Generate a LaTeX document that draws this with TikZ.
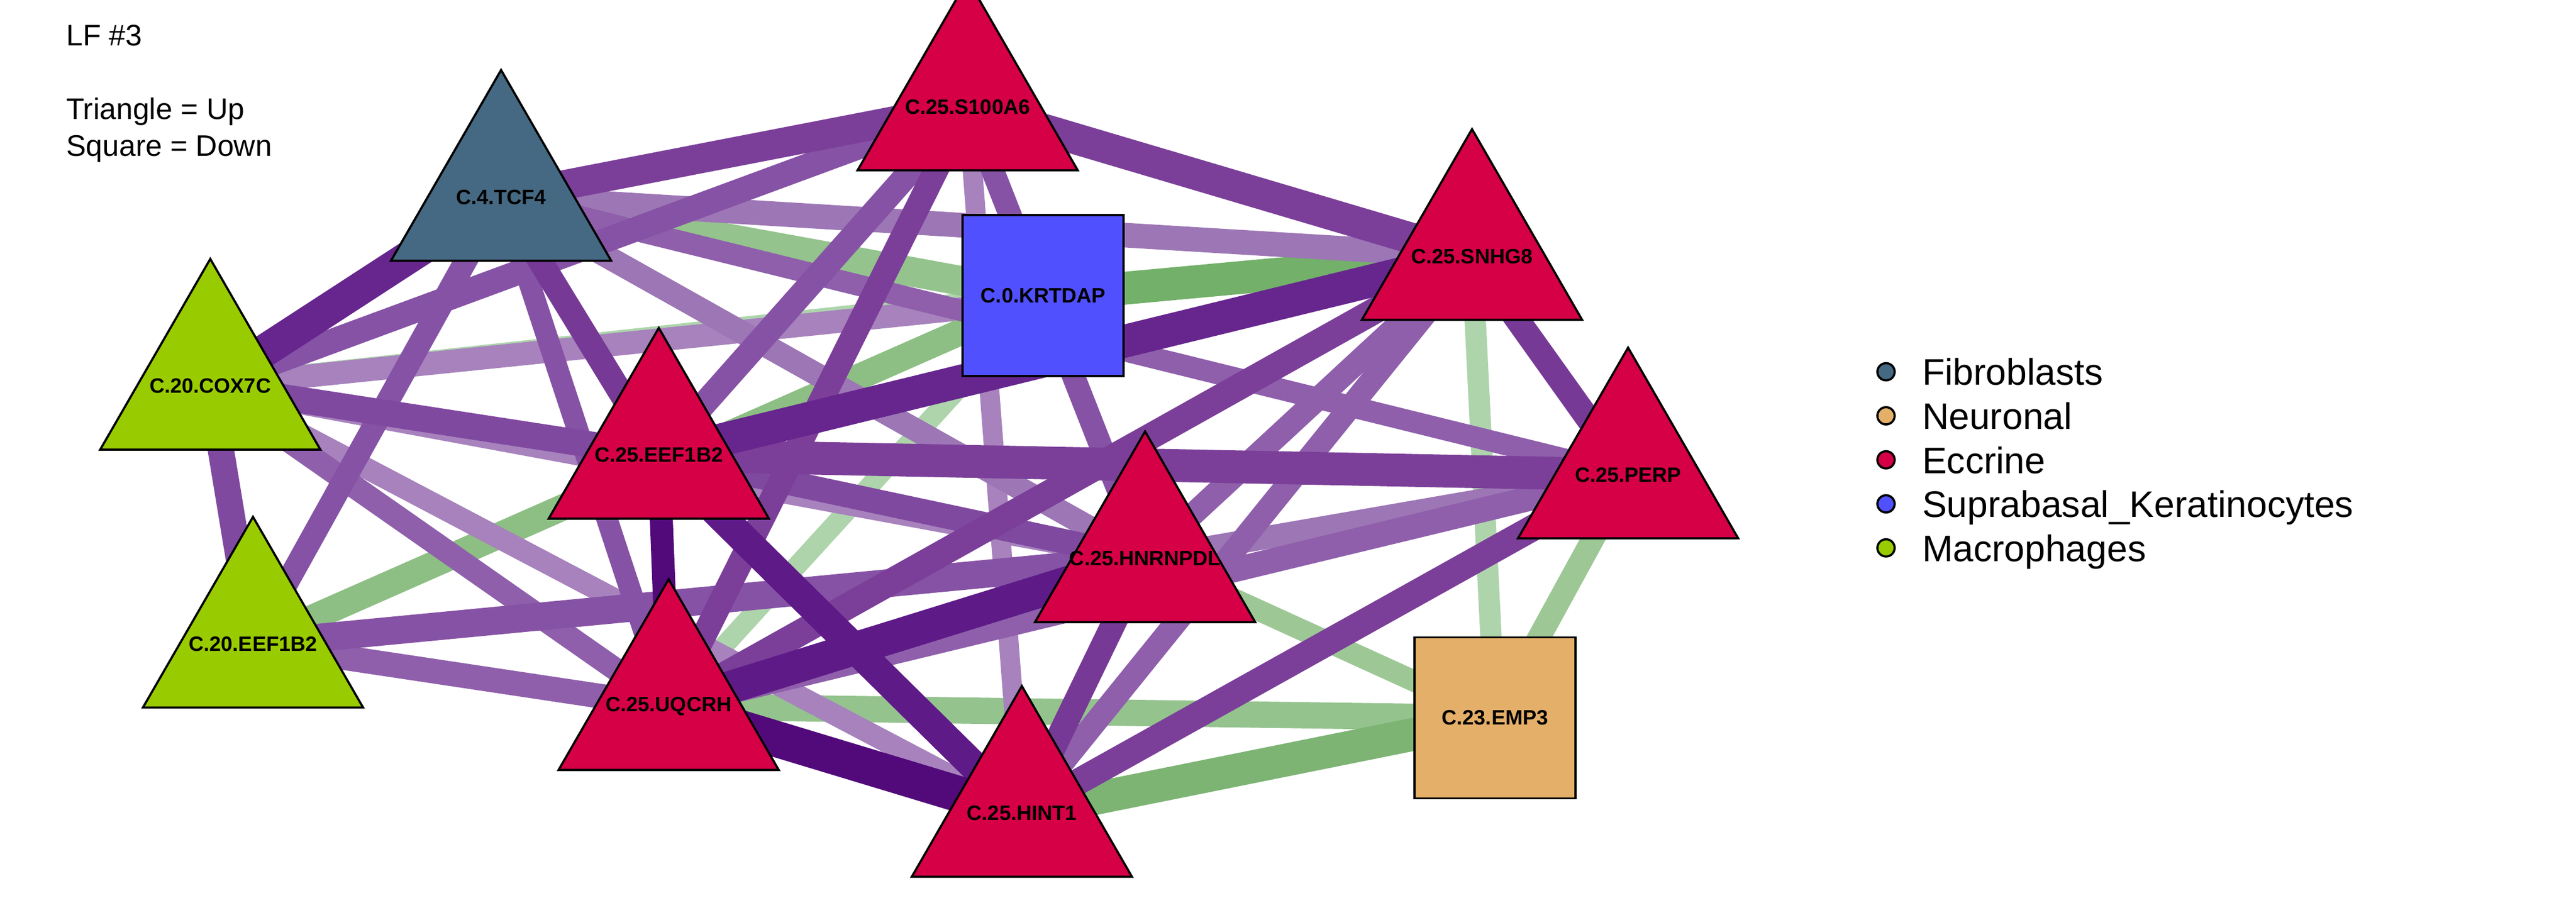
\documentclass[tikz,border=0pt]{standalone}
\usepackage{fontspec}
\setmainfont{Liberation Sans}
\usetikzlibrary{shapes.geometric}
\pgfdeclarelayer{edges}
\pgfsetlayers{edges,main}

\definecolor{fibro}{HTML}{466983}
\definecolor{neuro}{HTML}{E4AF69}
\definecolor{eccr}{HTML}{D60047}
\definecolor{supra}{HTML}{5050FF}
\definecolor{macro}{HTML}{99CC00}
\definecolor{puA}{HTML}{520A7A}
\definecolor{puB}{HTML}{5E1B88}
\definecolor{puC}{HTML}{66268E}
\definecolor{puD}{HTML}{763A96}
\definecolor{puE}{HTML}{7B3F99}
\definecolor{puF}{HTML}{8049A0}
\definecolor{puG}{HTML}{8652A5}
\definecolor{puH}{HTML}{8F5FAB}
\definecolor{puI}{HTML}{9D76B5}
\definecolor{puJ}{HTML}{A782BD}
\definecolor{grA}{HTML}{73B06A}
\definecolor{grB}{HTML}{7DB474}
\definecolor{grC}{HTML}{8DBF84}
\definecolor{grD}{HTML}{94C38E}
\definecolor{grE}{HTML}{9DC896}
\definecolor{grF}{HTML}{AED4AC}

\begin{document}
\begin{tikzpicture}[x=0.02cm, y=-0.02cm,
  up/.style={regular polygon, regular polygon sides=3, draw, line width=0.75pt, minimum size=3.096cm, inner sep=0pt},
  down/.style={rectangle, draw, line width=0.75pt, minimum size=1.96cm, inner sep=0pt, font=\fontsize{7.2}{8.6}\selectfont\bfseries},
  gene/.style={label={center:{\fontsize{7.2}{8.6}\selectfont\bfseries #1}}},
  lk/.style 2 args={draw=#1, line width=#2*0.569pt},
  key/.style={circle, draw, line width=0.75pt, minimum size=0.21cm, inner sep=0pt},
  keytext/.style={anchor=base west, inner sep=0pt, font=\fontsize{12.8}{15}\selectfont},
  note/.style={anchor=base west, inner sep=0pt, font=\fontsize{10.3}{12}\selectfont}]

\useasboundingbox (0,0) rectangle (1568,560);
\clip (0,0) rectangle (1568,560);

% vertices
\node[up, fill=eccr, gene=C.25.S100A6] (s100) at (589,65) {};
\node[up, fill=fibro, gene=C.4.TCF4] (tcf) at (305,120) {};
\node[up, fill=macro, gene=C.20.COX7C] (cox) at (128,235) {};
\node[down, fill=supra] (krt) at (635,180) {C.0.KRTDAP};
\node[up, fill=eccr, gene=C.25.SNHG8] (snhg) at (896,156) {};
\node[up, fill=eccr, gene=C.25.EEF1B2] (eefc) at (401,277) {};
\node[up, fill=eccr, gene=C.25.PERP] (perp) at (991,289) {};
\node[up, fill=eccr, gene=C.25.HNRNPDL] (hnr) at (697,340) {};
\node[up, fill=macro, gene=C.20.EEF1B2] (eefm) at (154,392) {};
\node[up, fill=eccr, gene=C.25.UQCRH] (uq) at (407,430) {};
\node[down, fill=neuro] (emp) at (910,437) {C.23.EMP3};
\node[up, fill=eccr, gene=C.25.HINT1] (hint) at (622,495) {};

% edges, drawn under the vertices
\begin{pgfonlayer}{edges}
\draw[lk={grF}{14}] (cox.center) -- (krt.center);
\draw[lk={puJ}{14}] (cox.center) -- (snhg.center);
\draw[lk={grD}{18}] (tcf.center) -- (krt.center);
\draw[lk={grA}{20}] (krt.center) -- (snhg.center);
\draw[lk={grC}{16}] (eefm.center) -- (krt.center);
\draw[lk={grF}{12}] (krt.center) -- (uq.center);
\draw[lk={grF}{13}] (snhg.center) -- (emp.center);
\draw[lk={grE}{14}] (perp.center) -- (emp.center);
\draw[lk={grE}{13}] (hnr.center) -- (emp.center);
\draw[lk={grD}{16}] (uq.center) -- (emp.center);
\draw[lk={grB}{20}] (hint.center) -- (emp.center);
\draw[lk={puJ}{12}] (s100.center) -- (hint.center);
\draw[lk={puJ}{14}] (cox.center) -- (hnr.center);
\draw[lk={puJ}{13}] (cox.center) -- (hint.center);
\draw[lk={puI}{15}] (tcf.center) -- (snhg.center);
\draw[lk={puI}{14}] (tcf.center) -- (hnr.center);
\draw[lk={puI}{14}] (hnr.center) -- (perp.center);
\draw[lk={puH}{13}] (tcf.center) -- (perp.center);
\draw[lk={puH}{14}] (cox.center) -- (uq.center);
\draw[lk={puH}{15}] (eefm.center) -- (uq.center);
\draw[lk={puH}{15}] (uq.center) -- (perp.center);
\draw[lk={puH}{14}] (hnr.center) -- (snhg.center);
\draw[lk={puH}{14}] (hint.center) -- (snhg.center);
\draw[lk={puG}{15}] (cox.center) -- (s100.center);
\draw[lk={puG}{14}] (tcf.center) -- (eefm.center);
\draw[lk={puG}{13}] (tcf.center) -- (uq.center);
\draw[lk={puG}{15}] (s100.center) -- (eefc.center);
\draw[lk={puG}{14}] (s100.center) -- (hnr.center);
\draw[lk={puG}{17}] (eefm.center) -- (hnr.center);
\draw[lk={puF}{16}] (cox.center) -- (eefc.center);
\draw[lk={puF}{15}] (eefc.center) -- (hnr.center);
\draw[lk={puF}{16}] (cox.center) -- (eefm.center);
\draw[lk={puE}{18}] (tcf.center) -- (s100.center);
\draw[lk={puE}{19}] (s100.center) -- (snhg.center);
\draw[lk={puE}{15}] (s100.center) -- (uq.center);
\draw[lk={puE}{20}] (eefc.center) -- (perp.center);
\draw[lk={puE}{16}] (uq.center) -- (snhg.center);
\draw[lk={puE}{16}] (hint.center) -- (perp.center);
\draw[lk={puD}{15}] (tcf.center) -- (eefc.center);
\draw[lk={puD}{15}] (hnr.center) -- (hint.center);
\draw[lk={puD}{15}] (snhg.center) -- (perp.center);
\draw[lk={puC}{20}] (cox.center) -- (tcf.center);
\draw[lk={puC}{20}] (eefc.center) -- (snhg.center);
\draw[lk={puB}{20}] (uq.center) -- (hnr.center);
\draw[lk={puB}{18}] (eefc.center) -- (hint.center);
\draw[lk={puA}{14}] (eefc.center) -- (uq.center);
\draw[lk={puA}{22}] (uq.center) -- (hint.center);
\end{pgfonlayer}

% notes and legend
\node[note] (title) at (40,27.9) {LF \#3};
\node[note] (tri) at (40,72.5) {Triangle = Up};
\node[note] (sq) at (40,94.9) {Square = Down};

\node[key, fill=fibro] (k1) at (1148,226.3) {};
\node[key, fill=neuro] (k2) at (1148,253.1) {};
\node[key, fill=eccr] (k3) at (1148,279.9) {};
\node[key, fill=supra] (k4) at (1148,306.7) {};
\node[key, fill=macro] (k5) at (1148,333.5) {};
\node[keytext] (t1) at (1169.7,234.5) {Fibroblasts};
\node[keytext] (t2) at (1169.7,261.3) {Neuronal};
\node[keytext] (t3) at (1169.7,288.1) {Eccrine};
\node[keytext] (t4) at (1169.7,314.9) {Suprabasal\_Keratinocytes};
\node[keytext] (t5) at (1169.7,341.7) {Macrophages};
\end{tikzpicture}
\end{document}
